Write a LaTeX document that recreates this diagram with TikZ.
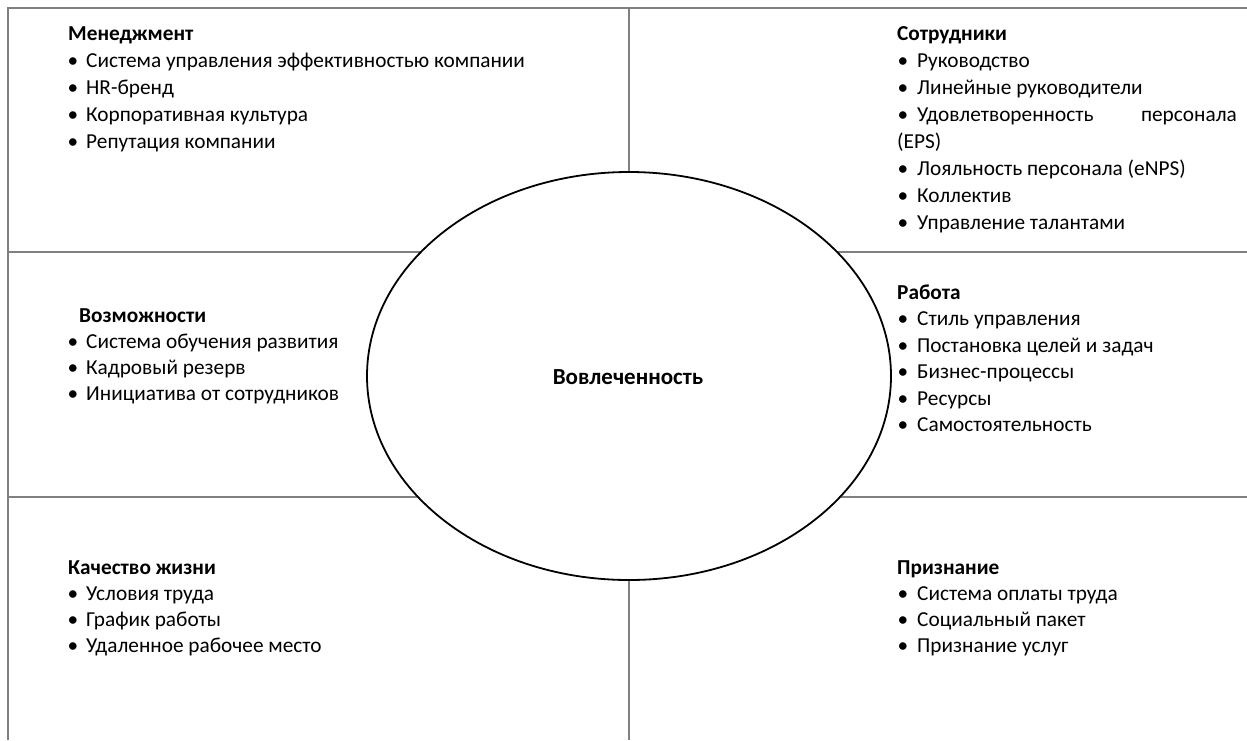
\documentclass[tikz,border=0pt]{standalone}
\usepackage{fontspec}
\setmainfont{Carlito}
\usetikzlibrary{shapes.geometric}
\begin{document}
\begin{tikzpicture}[x=1pt,y=-1pt,
  grid/.style={draw=black!50, line width=2pt},
  txt/.style={anchor=mid west, inner sep=0pt, font=\fontsize{21.3}{25}\selectfont},
  hdr/.style={txt, font=\fontsize{21.3}{25}\selectfont\bfseries},
  bul/.style={anchor=mid, inner sep=0pt, font=\fontsize{21.3}{25}\selectfont}]
\useasboundingbox (0,0) rectangle (1247,740);
% grid
\coordinate (tl) at (8,8);
\coordinate (tr) at (1247,8);
\coordinate (bl) at (8,740);
\coordinate (mt) at (629,8);
\coordinate (mb) at (629,740);
\coordinate (l1) at (8,252);
\coordinate (r1) at (1247,252);
\coordinate (l2) at (8,497);
\coordinate (r2) at (1247,497);
\draw[grid] (bl) -- (tl) -- (tr);
\draw[grid] (mt) -- (mb);
\draw[grid] (l1) -- (r1);
\draw[grid] (l2) -- (r2);
% ellipse
\node[draw=black, line width=1.8pt, fill=white, ellipse, minimum width=524pt, minimum height=408pt, inner sep=0pt] (ell) at (629,376) {};
\node[anchor=mid, inner sep=0pt, font=\fontsize{23}{27}\selectfont\bfseries] (vov) at (628,382) {Вовлеченность};
% Менеджмент
\node[hdr] (m0) at (68,38) {Менеджмент};
\node[bul] (mb1) at (73,65) {•}; \node[txt] (m1) at (86,65) {Система управления эффективностью компании};
\node[bul] (mb2) at (73,92) {•}; \node[txt] (m2) at (86,92) {HR-бренд};
\node[bul] (mb3) at (73,119) {•}; \node[txt] (m3) at (86,119) {Корпоративная культура};
\node[bul] (mb4) at (73,146) {•}; \node[txt] (m4) at (86,146) {Репутация компании};
% Сотрудники
\node[hdr] (s0) at (897,38) {Сотрудники};
\node[bul] (sb1) at (903,65) {•}; \node[txt] (s1) at (917,65) {Руководство};
\node[bul] (sb2) at (903,92) {•}; \node[txt] (s2) at (917,92) {Линейные руководители};
\node[bul] (sb3) at (903,119) {•}; \node[txt] (s3) at (917,119) {Удовлетворенность};
\node[txt, anchor=mid east] (s3b) at (1237,119) {персонала};
\node[txt] (s4) at (897,146) {(EPS)};
\node[bul] (sb5) at (903,173) {•}; \node[txt] (s5) at (917,173) {Лояльность персонала (eNPS)};
\node[bul] (sb6) at (903,200) {•}; \node[txt] (s6) at (917,200) {Коллектив};
\node[bul] (sb7) at (903,227) {•}; \node[txt] (s7) at (917,227) {Управление талантами};
% Возможности
\node[hdr] (v0) at (79,320) {Возможности};
\node[bul] (vb1) at (73,346) {•}; \node[txt] (v1) at (86,346) {Система обучения развития};
\node[bul] (vb2) at (73,372) {•}; \node[txt] (v2) at (86,372) {Кадровый резерв};
\node[bul] (vb3) at (73,398) {•}; \node[txt] (v3) at (86,398) {Инициатива от сотрудников};
% Работа
\node[hdr] (r0) at (897,297) {Работа};
\node[bul] (rb1) at (903,323.5) {•}; \node[txt] (r1t) at (917,323.5) {Стиль управления};
\node[bul] (rb2) at (903,350) {•}; \node[txt] (r2t) at (917,350) {Постановка целей и задач};
\node[bul] (rb3) at (903,376.5) {•}; \node[txt] (r3t) at (917,376.5) {Бизнес-процессы};
\node[bul] (rb4) at (903,403) {•}; \node[txt] (r4t) at (917,403) {Ресурсы};
\node[bul] (rb5) at (903,429.5) {•}; \node[txt] (r5t) at (917,429.5) {Самостоятельность};
% Качество жизни
\node[hdr] (k0) at (68,572) {Качество жизни};
\node[bul] (kb1) at (73,598) {•}; \node[txt] (k1) at (86,598) {Условия труда};
\node[bul] (kb2) at (73,624) {•}; \node[txt] (k2) at (86,624) {График работы};
\node[bul] (kb3) at (73,650) {•}; \node[txt] (k3) at (86,650) {Удаленное рабочее место};
% Признание
\node[hdr] (p0) at (897,572) {Признание};
\node[bul] (pb1) at (903,598) {•}; \node[txt] (p1) at (917,598) {Система оплаты труда};
\node[bul] (pb2) at (903,624) {•}; \node[txt] (p2) at (917,624) {Социальный пакет};
\node[bul] (pb3) at (903,650) {•}; \node[txt] (p3) at (917,650) {Признание услуг};
\end{tikzpicture}
\end{document}
